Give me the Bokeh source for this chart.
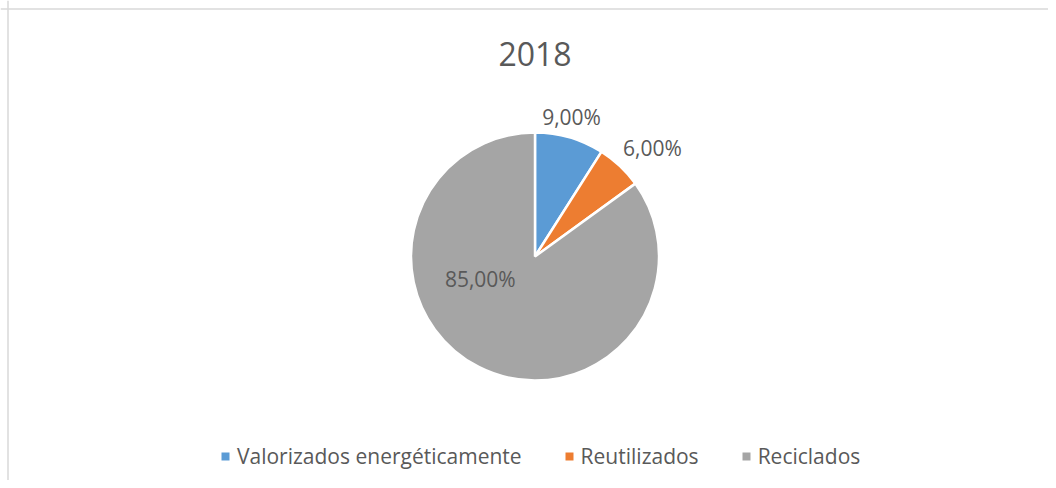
import math
from bokeh.plotting import figure
from bokeh.models import ColumnDataSource, Legend, LegendItem, Label, Span, Range1d
from bokeh.core.properties import value
from bokeh.embed import file_html
from bokeh.resources import INLINE

# ---- data ----
title_text = "2018"
categories = ["Valorizados energéticamente", "Reutilizados", "Reciclados"]
shares = [9.0, 6.0, 85.0]
colors = ["#5B9BD5", "#ED7D31", "#A5A5A5"]

# ---- layout ----
W, H = 1048, 480
CX, CY, R = 534.5, 224.0, 124.0
FONT = "Open Sans"
TXT = "#595959"
# label placement per slice: (distance from centre, angle offset from slice mid, degrees)
label_layout = [(144, 1.5), (160, -4.0), (59, -41.0)]

total = sum(shares)
starts, ends, lx, ly, labels = [], [], [], [], []
a = math.pi / 2
for v, (dist, off) in zip(shares, label_layout):
    sweep = 2 * math.pi * v / total
    starts.append(a)
    ends.append(a - sweep)
    mid = a - sweep / 2 + math.radians(off)
    lx.append(CX + dist * math.cos(mid))
    ly.append(CY + dist * math.sin(mid))
    labels.append(f"{v:.2f}".replace(".", ",") + "%")
    a -= sweep

src = ColumnDataSource(dict(start=starts, end=ends, color=colors, cat=categories,
                            lx=lx, ly=ly, lab=labels))

p = figure(width=W, height=H, output_backend="svg", toolbar_location=None,
           x_range=Range1d(0, W), y_range=Range1d(0, H), min_border=0)
p.axis.visible = False
p.grid.visible = False
p.outline_line_color = None
p.background_fill_color = "white"

p.wedge(x=CX, y=CY, radius=R, start_angle="start", end_angle="end",
        direction="clock", fill_color="color", line_color="white",
        line_width=2.5, source=src)

p.text(x="lx", y="ly", text="lab", source=src, text_align="center",
       text_baseline="middle", text_font=value(FONT), text_font_size="21px",
       text_color=TXT)

p.add_layout(Label(x=CX, y=427, text=title_text, text_align="center",
                   text_baseline="middle", text_font=FONT,
                   text_font_size="32px", text_color=TXT))

# chart border (left and top visible in the reference)
p.add_layout(Span(location=7.5, dimension="height", line_color="#D9D9D9", line_width=1.5))
p.add_layout(Span(location=H - 8.5, dimension="width", line_color="#D9D9D9", line_width=1.5))

# legend swatches: a quad renderer whose rows carry the colours but no drawable geometry
nan = float("nan")
sw_src = ColumnDataSource(dict(l=[nan] * 3, r=[nan] * 3, t=[nan] * 3, b=[nan] * 3,
                               color=colors))
sw = p.quad(left="l", right="r", top="t", bottom="b", fill_color="color",
            line_color=None, source=sw_src)
items = [LegendItem(label=c, renderers=[sw], index=i) for i, c in enumerate(categories)]

legend = Legend(items=items, orientation="horizontal", location=(220, 10),
                glyph_width=10, glyph_height=10, label_standoff=7, spacing=42,
                padding=0, margin=0, border_line_color=None,
                background_fill_alpha=0, label_text_font=FONT,
                label_text_font_size="21px", label_text_color=TXT)
p.add_layout(legend)

open("out.html", "w").write(file_html(p, INLINE))
